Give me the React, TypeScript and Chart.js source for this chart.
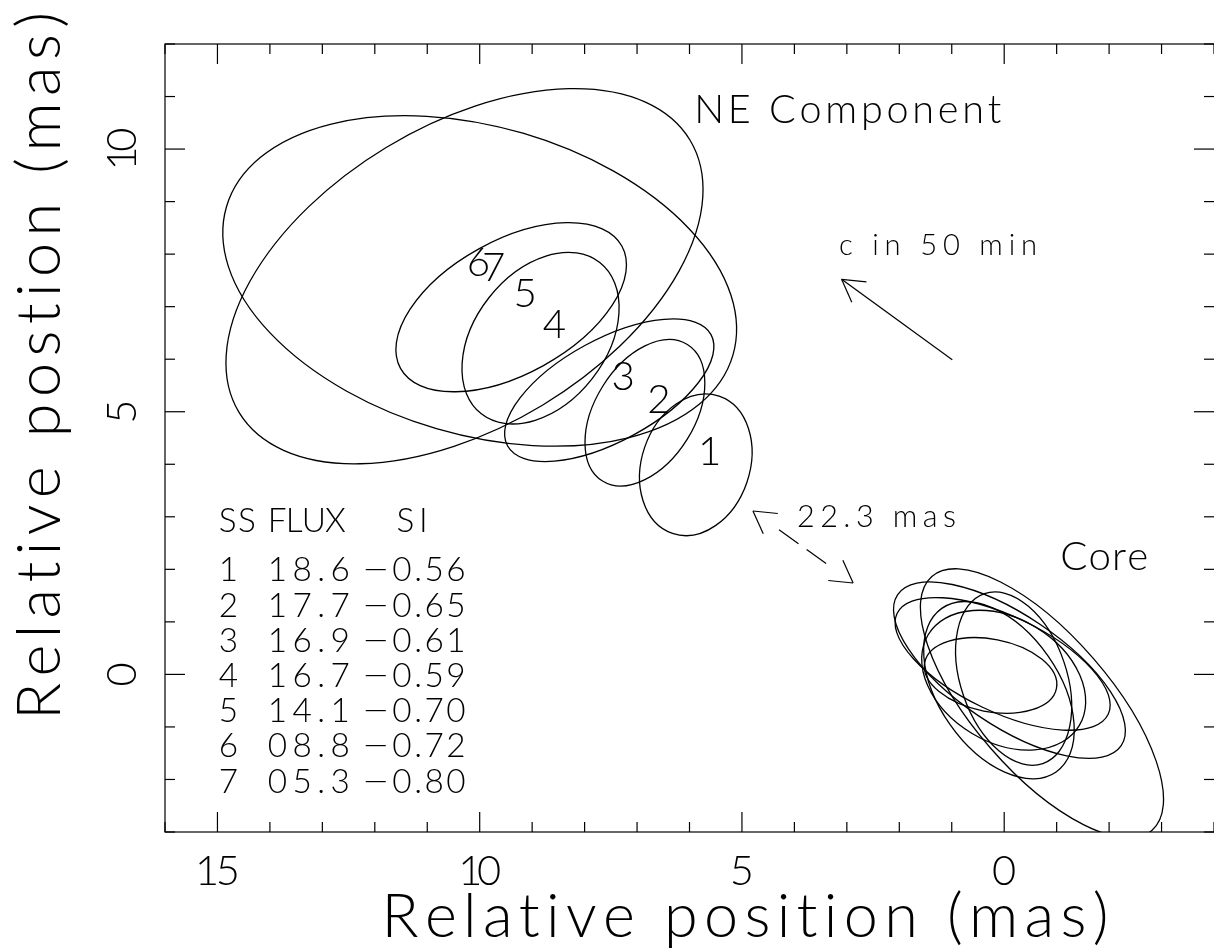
import React, { useEffect, useRef } from "react";
import { Chart, registerables } from "chart.js";

Chart.register(...registerables);

// ---------------- data (mas) ----------------
// NE component sub-structures: centre, semi-major, semi-minor, position angle (deg, N through E)
const neIds = ["1", "2", "3", "4", "5", "6", "7"];
const neX = [5.88, 6.85, 7.53, 8.84, 9.4, 10.29, 10.0];
const neY = [3.99, 4.98, 5.41, 6.4, 6.99, 7.58, 7.49];
const neMajor = [1.38, 1.53, 2.21, 1.83, 2.41, 5.02, 5.03];
const neMinor = [1.03, 0.95, 0.97, 1.25, 1.27, 2.87, 2.93];
const nePA = [-18.8, -31.9, -61.4, -38.1, -61.1, -58.9, 73.7];

// Core fits
const coreX = [-0.72, -0.18, 0.26, -0.1, 0.03, 0.01, 0.1];
const coreY = [-0.55, -0.08, -0.02, 0.08, 0.2, -0.11, -0.3];
const coreMajor = [3.2, 1.71, 1.28, 2.57, 2.23, 1.68, 1.9];
const coreMinor = [1.3, 1.01, 0.69, 1.05, 0.91, 1.18, 1.14];
const corePA = [41, 19, 79, 56, 64.5, 59, 35];

// table
const tableHeader = ["SS", "FLUX", "SI"];
const tableSS = ["1", "2", "3", "4", "5", "6", "7"];
const tableFlux = ["18.6", "17.7", "16.9", "16.7", "14.1", "08.8", "05.3"];
const tableSI = ["\u22120.56", "\u22120.65", "\u22120.61", "\u22120.59", "\u22120.70", "\u22120.72", "\u22120.80"];

// axes
const xLimits = [-4, 16];
const yLimits = [-3, 12];
const xTickValues = [15, 10, 5, 0];
const xTickLabels = ["15", "10", "5", "0"];
const yTickValues = [10, 5, 0];
const yTickLabels = ["10", "5", "0"];
const xTitle = "Relative position (mas)";
const yTitle = "Relative postion (mas)";

// arrows (tail -> head)
const speedArrowX = [0.99, 3.1];
const speedArrowY = [5.99, 7.52];
const sepArrowX = [4.79, 2.88];
const sepArrowY = [3.11, 1.74];

// annotations (anchor = left of baseline, data coords)
const noteText = ["NE Component", "c in 50 min", "22.3 mas", "Core"];
const noteX = [5.91, 3.15, 3.95, -1.07];
const noteY = [10.49, 7.98, 2.8, 1.98];

// table anchors (data coords)
const tableColX = [14.975, 14.04, 12.25];
const tableHeaderX = [14.975, 14.04, 11.585];
const tableHeaderY = 2.72;
const tableRowY = [1.77, 1.1, 0.43, -0.24, -0.91, -1.58, -2.25];

// ---------------- drawing helpers ----------------
const FAMILY = 'Lato, "DejaVu Sans", sans-serif';
const CAP = 0.72;

function drawText(
  ctx: CanvasRenderingContext2D,
  text: string,
  x: number,
  y: number,
  cap: number,
  align: "left" | "center" | "right",
  width?: number,
  rotate?: number
) {
  ctx.save();
  ctx.translate(x, y);
  if (rotate) ctx.rotate(rotate);
  ctx.font = `300 ${cap / CAP}px ${FAMILY}`;
  ctx.textBaseline = "alphabetic";
  ctx.textAlign = "left";
  const chars = Array.from(text);
  // long Hershey-style minus: stretch the glyph horizontally
  const sx = chars.map((c) => (c === "\u2212" ? 1.45 : 1));
  const ws = chars.map((c, i) => ctx.measureText(c).width * sx[i]);
  const natural = ws.reduce((s, w) => s + w, 0);
  let gap = 0;
  if (chars.length > 1) {
    gap = width !== undefined ? (width - natural) / (chars.length - 1) : cap * 0.14;
  }
  const total = natural + gap * (chars.length - 1);
  let cx = align === "center" ? -total / 2 : align === "right" ? -total : 0;
  chars.forEach((c, i) => {
    if (sx[i] !== 1) {
      ctx.save();
      ctx.translate(cx, 0);
      ctx.scale(sx[i], 1);
      ctx.fillText(c, 0, 0);
      ctx.restore();
    } else {
      ctx.fillText(c, cx, 0);
    }
    cx += ws[i] + gap;
  });
  ctx.restore();
}

function line(ctx: CanvasRenderingContext2D, x1: number, y1: number, x2: number, y2: number) {
  ctx.beginPath();
  ctx.moveTo(x1, y1);
  ctx.lineTo(x2, y2);
  ctx.stroke();
}

function arrowHead(ctx: CanvasRenderingContext2D, tipX: number, tipY: number, fromX: number, fromY: number) {
  const ang = Math.atan2(fromY - tipY, fromX - tipX);
  const len = 25;
  const half = (30 * Math.PI) / 180;
  line(ctx, tipX, tipY, tipX + len * Math.cos(ang - half), tipY + len * Math.sin(ang - half));
  line(ctx, tipX, tipY, tipX + len * Math.cos(ang + half), tipY + len * Math.sin(ang + half));
}

function drawEllipse(ctx: CanvasRenderingContext2D, xs: any, ys: any, cx: number, cy: number, a: number, b: number, pa: number) {
  const t = (pa * Math.PI) / 180;
  const c = { x: xs.getPixelForValue(cx), y: ys.getPixelForValue(cy) };
  const pMaj = { x: xs.getPixelForValue(cx + a * Math.sin(t)), y: ys.getPixelForValue(cy + a * Math.cos(t)) };
  const pMin = { x: xs.getPixelForValue(cx + b * Math.cos(t)), y: ys.getPixelForValue(cy - b * Math.sin(t)) };
  const rx = Math.hypot(pMaj.x - c.x, pMaj.y - c.y);
  const ry = Math.hypot(pMin.x - c.x, pMin.y - c.y);
  const rot = Math.atan2(pMaj.y - c.y, pMaj.x - c.x);
  ctx.beginPath();
  ctx.ellipse(c.x, c.y, rx, ry, rot, 0, Math.PI * 2);
  ctx.stroke();
  return c;
}

const pgplotPlugin = {
  id: "pgplot",
  afterDatasetsDraw(chart: any) {
    const { ctx, chartArea: ca, scales } = chart;
    const xs = scales.x;
    const ys = scales.y;
    ctx.save();
    ctx.strokeStyle = "#000";
    ctx.fillStyle = "#000";
    ctx.lineWidth = 1.2;

    // frame
    ctx.strokeRect(ca.left, ca.top, ca.right - ca.left + 1, ca.bottom - ca.top);

    // ticks on all four sides
    xs.ticks.forEach((t: any) => {
      const px = xs.getPixelForValue(t.value);
      const len = t.value % 5 === 0 ? 20 : 10;
      line(ctx, px, ca.bottom, px, ca.bottom - len);
      line(ctx, px, ca.top, px, ca.top + len);
    });
    ys.ticks.forEach((t: any) => {
      const py = ys.getPixelForValue(t.value);
      const len = t.value % 5 === 0 ? 20 : 10;
      line(ctx, ca.left, py, ca.left + len, py);
      line(ctx, ca.right, py, ca.right - len, py);
    });

    // tick labels
    xTickValues.forEach((v, i) => {
      drawText(ctx, xTickLabels[i], xs.getPixelForValue(v), ca.bottom + 53, 30, "center", i === 0 ? 45 : i === 1 ? 43 : undefined);
    });
    yTickValues.forEach((v, i) => {
      drawText(ctx, yTickLabels[i], ca.left - 29, ys.getPixelForValue(v), 30, "center", i === 0 ? 43 : undefined, -Math.PI / 2);
    });

    // axis titles
    drawText(ctx, xTitle, 745, ca.bottom + 105, 44, "center", 727);
    drawText(ctx, yTitle, 60, 366, 44, "center", 708, -Math.PI / 2);

    // ellipses
    ctx.save();
    ctx.beginPath();
    ctx.rect(ca.left, ca.top, ca.right - ca.left, ca.bottom - ca.top);
    ctx.clip();
    ctx.lineWidth = 1.3;
    const centres = neX.map((x, i) => drawEllipse(ctx, xs, ys, x, neY[i], neMajor[i], neMinor[i], nePA[i]));
    coreX.forEach((x, i) => drawEllipse(ctx, xs, ys, x, coreY[i], coreMajor[i], coreMinor[i], corePA[i]));
    ctx.restore();

    // component numbers
    centres.forEach((c: any, i: number) => {
      drawText(ctx, neIds[i], c.x + 14, c.y, 29, "center");
    });

    // arrow heads
    ctx.lineWidth = 1.2;
    const sTail = { x: xs.getPixelForValue(speedArrowX[0]), y: ys.getPixelForValue(speedArrowY[0]) };
    const sHead = { x: xs.getPixelForValue(speedArrowX[1]), y: ys.getPixelForValue(speedArrowY[1]) };
    arrowHead(ctx, sHead.x, sHead.y, sTail.x, sTail.y);

    const a1 = { x: xs.getPixelForValue(sepArrowX[0]), y: ys.getPixelForValue(sepArrowY[0]) };
    const a2 = { x: xs.getPixelForValue(sepArrowX[1]), y: ys.getPixelForValue(sepArrowY[1]) };
    arrowHead(ctx, a1.x, a1.y, a2.x, a2.y);
    arrowHead(ctx, a2.x, a2.y, a1.x, a1.y);
    // dashed shaft (middle part)
    ctx.save();
    ctx.setLineDash([24, 10]);
    const f0 = 0.26;
    const f1 = 0.74;
    line(ctx, a1.x + (a2.x - a1.x) * f0, a1.y + (a2.y - a1.y) * f0, a1.x + (a2.x - a1.x) * f1, a1.y + (a2.y - a1.y) * f1);
    ctx.restore();

    // annotations
    const noteCap = [28.5, 21, 22, 29];
    const noteW = [307, 198, 159, 88];
    noteText.forEach((t, i) => {
      drawText(ctx, t, xs.getPixelForValue(noteX[i]), ys.getPixelForValue(noteY[i]), noteCap[i], "left", noteW[i]);
    });

    // table
    const tcap = 24;
    const hy = ys.getPixelForValue(tableHeaderY);
    const headerW = [37, 78, 31];
    tableHeader.forEach((h, i) => {
      drawText(ctx, h, xs.getPixelForValue(tableHeaderX[i]), hy, tcap, "left", headerW[i]);
    });
    tableRowY.forEach((ry, i) => {
      const py = ys.getPixelForValue(ry);
      drawText(ctx, tableSS[i], xs.getPixelForValue(tableColX[0]), py, tcap, "left");
      drawText(ctx, tableFlux[i], xs.getPixelForValue(tableColX[1]), py, tcap, "left", 82);
      drawText(ctx, tableSI[i], xs.getPixelForValue(tableColX[2]), py, tcap, "left", 104);
    });

    ctx.restore();
  },
};

export default function App() {
  const ref = useRef<HTMLCanvasElement | null>(null);

  useEffect(() => {
    if (!ref.current) return;
    const chart = new Chart(ref.current, {
      type: "scatter",
      data: {
        datasets: [
          {
            data: speedArrowX.map((x, i) => ({ x, y: speedArrowY[i] })),
            showLine: true,
            borderColor: "#000",
            borderWidth: 1.2,
            pointRadius: 0,
          },
        ],
      },
      options: {
        responsive: false,
        animation: false,
        events: [],
        layout: { padding: { left: 165, top: 44, right: 0, bottom: 119 } },
        scales: {
          x: { type: "linear", min: xLimits[0], max: xLimits[1], reverse: true, display: false, ticks: { stepSize: 1 } },
          y: { type: "linear", min: yLimits[0], max: yLimits[1], display: false, ticks: { stepSize: 1 } },
        },
        plugins: { legend: { display: false }, tooltip: { enabled: false } },
      },
      plugins: [pgplotPlugin],
    } as any);
    return () => chart.destroy();
  }, []);

  return (
    <div style={{ position: "absolute", left: 0, top: 0, width: 1214, height: 951, background: "#fff" }}>
      <canvas ref={ref} width={1214} height={951} style={{ display: "block" }} />
    </div>
  );
}
